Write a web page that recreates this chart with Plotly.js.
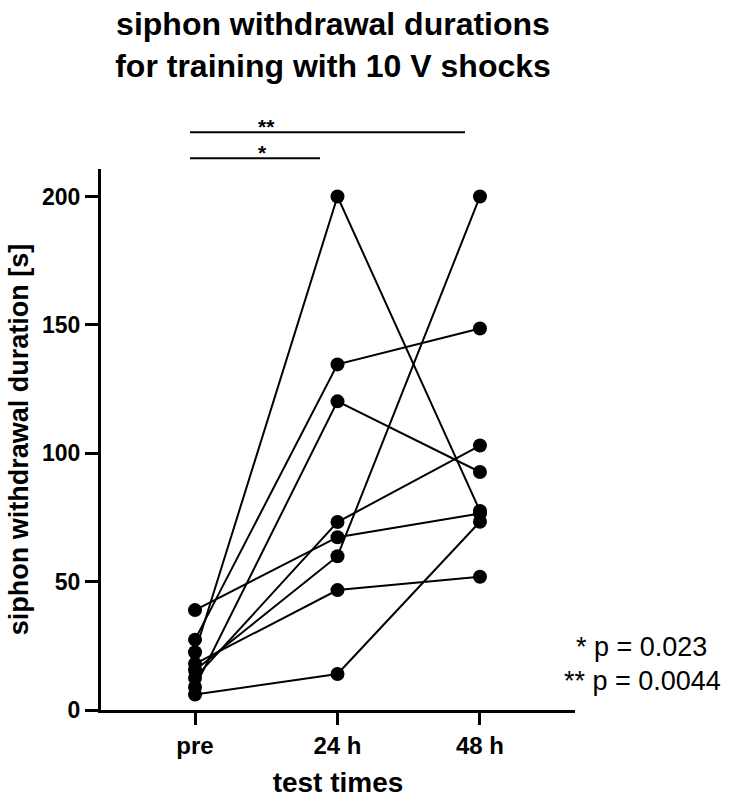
<!DOCTYPE html>
<html>
<head>
<meta charset="utf-8">
<script src="https://cdn.plot.ly/plotly-3.0.1.min.js"></script>
<style>
  html, body { margin: 0; padding: 0; background: #ffffff; }
  #chart { width: 730px; height: 798px; }
</style>
</head>
<body>
<div id="chart"></div>
<script>
// Test times on the x axis
const testTimes = ['pre', '24 h', '48 h'];

// Siphon withdrawal duration [s] of each animal at pre, 24 h and 48 h
const animal1 = [22.5, 200, 77.5];
const animal2 = [27.4, 134.6, 148.6];
const animal3 = [9, 120.2, 92.7];
const animal4 = [38.9, 67.3, 76.5];
const animal5 = [12.5, 73.2, 103];
const animal6 = [15.5, 59.9, 200];
const animal7 = [18, 46.7, 51.9];
const animal8 = [6, 14, 73.3];

const animals = [animal1, animal2, animal3, animal4, animal5, animal6, animal7, animal8];

// Significance brackets: [from, to, label]
const comparisons = [
  ['pre', '24 h', '*'],
  ['pre', '48 h', '**']
];
const pValues = ['* p = 0.023', '** p = 0.0044'];

const FONT = 'Liberation Sans, Arial, Helvetica, sans-serif';

const traces = [];
// connecting lines first, so every dot sits on top of all lines
animals.forEach(vals => {
  traces.push({
    x: testTimes, y: vals, type: 'scatter', mode: 'lines',
    line: {color: '#000000', width: 2}, hoverinfo: 'skip', showlegend: false
  });
});
animals.forEach(vals => {
  traces.push({
    x: testTimes, y: vals, type: 'scatter', mode: 'markers',
    marker: {color: '#000000', size: 14}, cliponaxis: false, showlegend: false
  });
});

const idx = c => testTimes.indexOf(c);

// bracket geometry (paper y above the plot area)
const bracketY = [1.020, 1.068];
const starY = [1.030, 1.079];

const shapes = comparisons.map((c, i) => ({
  type: 'line', xref: 'x', yref: 'paper',
  x0: idx(c[0]) - 0.035, x1: idx(c[1]) - 0.035 - (i === 0 ? 0.088 : 0.07),
  y0: bracketY[i], y1: bracketY[i],
  line: {color: '#000000', width: 2}
}));

const annotations = comparisons.map((c, i) => ({
  text: '<b>' + c[2] + '</b>', xref: 'x', yref: 'paper',
  x: i === 0 ? 0.477 : 0.505, y: starY[i],
  xanchor: 'center', yanchor: 'middle', showarrow: false,
  font: {family: FONT, size: 21, color: '#000000'}
}));

annotations.push({
  text: pValues[0], xref: 'paper', yref: 'paper',
  x: 0.998, y: 0.117, xanchor: 'left', yanchor: 'middle', showarrow: false,
  font: {family: FONT, size: 27, color: '#000000'}
});
annotations.push({
  text: pValues[1], xref: 'paper', yref: 'paper',
  x: 0.973, y: 0.053, xanchor: 'left', yanchor: 'middle', showarrow: false,
  font: {family: FONT, size: 27, color: '#000000'}
});

const layout = {
  width: 730, height: 798,
  margin: {l: 101, r: 155, t: 169, b: 87.5, pad: 0},
  paper_bgcolor: '#ffffff', plot_bgcolor: '#ffffff',
  showlegend: false,
  title: {
    text: 'siphon withdrawal durations<br>for training with 10 V shocks',
    font: {family: FONT, size: 32, color: '#000000', weight: 'bold'},
    xref: 'container', x: 333 / 730, xanchor: 'center',
    yref: 'container', y: 1 - 35 / 798, yanchor: 'top'
  },
  xaxis: {
    type: 'category', categoryorder: 'array', categoryarray: testTimes,
    range: [-0.66, 2.667],
    showline: true, linecolor: '#000000', linewidth: 3,
    ticks: 'outside', ticklen: 12, tickwidth: 3, tickcolor: '#000000',
    showgrid: false, zeroline: false,
    tickfont: {family: FONT, size: 24, color: '#000000', weight: 'bold'},
    title: {text: 'test times', standoff: 16,
            font: {family: FONT, size: 28, color: '#000000', weight: 'bold'}},
    fixedrange: true
  },
  yaxis: {
    range: [0, 210.7],
    tickvals: [0, 50, 100, 150, 200],
    showline: true, linecolor: '#000000', linewidth: 3,
    ticks: 'outside', ticklen: 13, tickwidth: 3, tickcolor: '#000000',
    showgrid: false, zeroline: false,
    tickfont: {family: FONT, size: 23, color: '#000000', weight: 'bold'},
    title: {text: 'siphon withdrawal duration [s]', standoff: 6,
            font: {family: FONT, size: 27, color: '#000000', weight: 'bold'}},
    fixedrange: true
  },
  shapes: shapes,
  annotations: annotations
};

Plotly.newPlot('chart', traces, layout, {displayModeBar: false, staticPlot: true});
</script>
</body>
</html>
